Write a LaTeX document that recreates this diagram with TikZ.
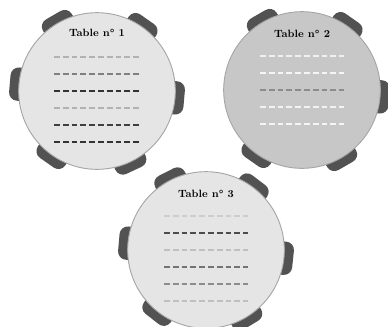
\documentclass[tikz,border=0pt]{standalone}
\usetikzlibrary{calc}

\begin{document}
\begin{tikzpicture}[x=0.03cm, y=-0.03cm,
  chair/.style={fill=black!68, rounded corners=7pt, minimum width=0.75cm,
    minimum height=1.0cm, inner sep=0pt},
  tablebox/.style={circle, draw=black!35, line width=0.8pt, minimum size=4.7cm, inner sep=0pt},
  title/.style={font=\small\bfseries, inner sep=1pt},
  row/.style={dash pattern=on 5pt off 2.5pt, line width=1pt}]
\useasboundingbox (0,0) rectangle (388,326);
\coordinate (c1) at (97,91);
\coordinate (c2) at (302,90);
\coordinate (c3) at (206,250);
% chairs go under the tables
\foreach \a in {120,55,175,-5,-125,-65}
  \node[chair, rotate=\a] at ($(c1)+(\a:2.25cm)$) {};
\foreach \a in {120,55,-5,-125,-60}
  \node[chair, rotate=\a] at ($(c2)+(\a:2.25cm)$) {};
\foreach \a in {117,53,175,-6,-128,-59}
  \node[chair, rotate=\a] at ($(c3)+(\a:2.25cm)$) {};
\node[tablebox, fill=black!10] (t1) at (c1) {};
\node[tablebox, fill=black!22] (t2) at (c2) {};
\node[tablebox, fill=black!10] (t3) at (c3) {};
\node[title] (n1) at ($(t1)+(0,-58)$) {Table n° 1};
\node[title] (n2) at ($(t2)+(0,-56)$) {Table n° 2};
\node[title] (n3) at ($(t3)+(0,-56)$) {Table n° 3};
\foreach \dy/\c in {-34/black!30, -17/black!50, 0/black!80, 17/black!30, 34/black!75, 51/black!80}
  \draw[row, \c] ($(t1)+(-43,\dy)$) -- ($(t1)+(43,\dy)$);
\foreach \dy/\c in {-34/black!6, -17/black!4, 0/black!45, 17/black!5, 34/black!4}
  \draw[row, \c] ($(t2)+(-42,\dy)$) -- ($(t2)+(42,\dy)$);
\foreach \dy/\c in {-34/black!20, -17/black!70, 0/black!25, 17/black!55, 34/black!45, 51/black!25}
  \draw[row, \c] ($(t3)+(-42,\dy)$) -- ($(t3)+(42,\dy)$);
\end{tikzpicture}
\end{document}
